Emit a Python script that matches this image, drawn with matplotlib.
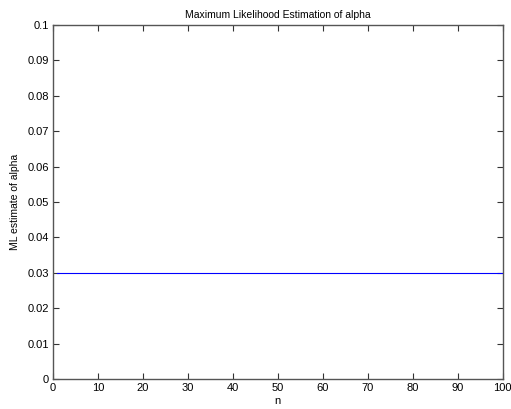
import numpy as np
import matplotlib
matplotlib.use('Agg')
import matplotlib.pyplot as plt

plt.rcParams['font.family'] = ['Liberation Sans', 'DejaVu Sans']

# data
n = [1, 100]
alpha_ml = [0.03, 0.03]
xticks = [0, 10, 20, 30, 40, 50, 60, 70, 80, 90, 100]
yticks = [0, 0.01, 0.02, 0.03, 0.04, 0.05, 0.06, 0.07, 0.08, 0.09, 0.1]
ytick_labels = ['0', '0.01', '0.02', '0.03', '0.04', '0.05', '0.06', '0.07', '0.08', '0.09', '0.1']

fig = plt.figure(figsize=(5.11, 4.09), dpi=100)
ax = fig.add_axes([0.1037, 0.0733, 0.880, 0.866])

ax.plot(n, alpha_ml, color='#0000ff', linewidth=0.8)
ax.set_xlim(0, 100)
ax.set_ylim(0, 0.1)
ax.set_xticks(xticks)
ax.set_yticks(yticks)
ax.set_yticklabels(ytick_labels)
ax.tick_params(direction='in', length=4, width=0.8, labelsize=8, color='#333333',
               top=True, right=True, pad=3)
for s in ax.spines.values():
    s.set_color('#555555')
    s.set_linewidth(1.0)

ax.set_title('Maximum Likelihood Estimation of alpha', fontsize=7.5, pad=5)
ax.set_xlabel('n', fontsize=8, labelpad=2)
ax.set_ylabel('ML estimate of alpha', fontsize=7.5, labelpad=5)

fig.savefig('out.png', dpi=100)
